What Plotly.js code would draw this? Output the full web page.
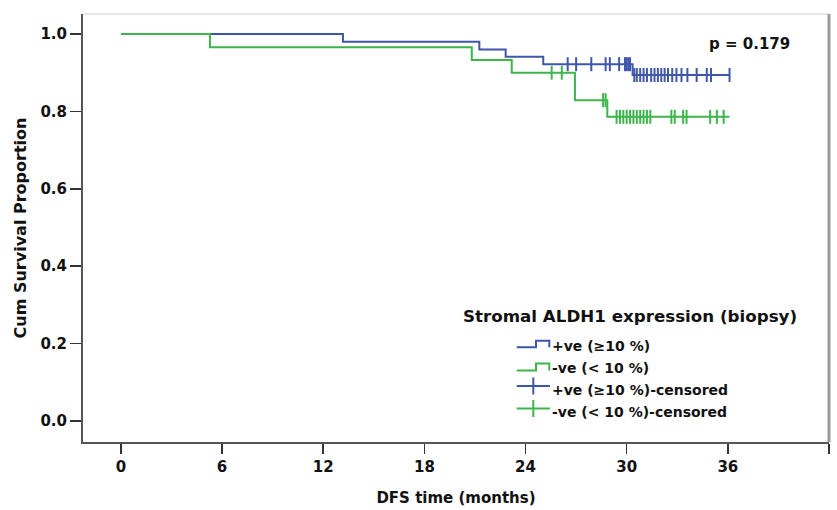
<!DOCTYPE html>
<html>
<head>
<meta charset="utf-8">
<script src="https://cdn.plot.ly/plotly-3.0.1.min.js"></script>
<style>html,body{margin:0;padding:0;background:#fff;}#chart{width:837px;height:510px;}</style>
</head>
<body>
<div id="chart"></div>
<script>
// ---- data ----
const xTicks = [0, 6, 12, 18, 24, 30, 36, 42];
const yTicks = [0.0, 0.2, 0.4, 0.6, 0.8, 1.0];

const posTime = [0, 13.17, 21.26, 22.82, 25.05, 30.35, 36.1];
const posSurv = [1.0, 0.980, 0.960, 0.941, 0.922, 0.894, 0.894];
const negTime = [0, 5.28, 20.81, 23.18, 26.93, 28.85, 36.1];
const negSurv = [1.0, 0.966, 0.933, 0.900, 0.829, 0.786, 0.786];

const posCensor = [26.5, 27.0, 27.9, 28.75, 29.0, 29.55, 29.9, 30.0, 30.1, 30.2,
  30.45, 30.6, 30.8, 31.0, 31.2, 31.45, 31.65, 31.85, 32.05, 32.25, 32.45, 32.7,
  32.95, 33.25, 33.6, 34.15, 34.75, 35.0, 36.1];
const negCensor = [25.55, 26.15, 28.6, 28.75, 29.4, 29.6, 29.8, 30.0, 30.2, 30.4,
  30.6, 30.8, 31.0, 31.2, 31.4, 32.65, 32.85, 33.35, 33.55, 34.95, 35.35, 35.75];

const seriesNames = ['+ve (\u226510 %)', '-ve (< 10 %)', '+ve (\u226510 %)-censored', '-ve (< 10 %)-censored'];
const legendTitle = 'Stromal ALDH1 expression (biopsy)';
const pText = 'p = 0.179';

// ---- styling ----
const BLUE = '#3F57AB';
const GREEN = '#3CB64A';
const FONT = 'DejaVu Sans, Liberation Sans, Arial, sans-serif';

function survAt(times, surv, t) {
  let v = surv[0];
  for (let i = 0; i < times.length; i++) { if (times[i] <= t) v = surv[i]; }
  return v;
}

const traces = [
  {x: posTime, y: posSurv, mode: 'lines', line: {shape: 'hv', color: BLUE, width: 2}, name: seriesNames[0], showlegend: false, hoverinfo: 'skip'},
  {x: posCensor, y: posCensor.map(t => survAt(posTime, posSurv, t)), mode: 'markers', name: seriesNames[2], showlegend: false,
   marker: {symbol: 'line-ns', size: 10, line: {color: BLUE, width: 2}}},
  {x: negTime, y: negSurv, mode: 'lines', line: {shape: 'hv', color: GREEN, width: 2}, name: seriesNames[1], showlegend: false, hoverinfo: 'skip'},
  {x: negCensor, y: negCensor.map(t => survAt(negTime, negSurv, t)), mode: 'markers', name: seriesNames[3], showlegend: false,
   marker: {symbol: 'line-ns', size: 10, line: {color: GREEN, width: 2}}}
];

// plot area in px, for placing the hand-drawn legend
const L = 83, R = 829, T = 14, B = 442;
const px = x => (x - L) / (R - L);
const py = y => (B - y) / (B - T);

const shapes = [
  {type: 'line', xref: 'paper', yref: 'paper', x0: 0, x1: 1, y0: 1, y1: 1, line: {color: '#cfcfcf', width: 1}},
  {type: 'line', xref: 'paper', yref: 'paper', x0: 1, x1: 1, y0: 0, y1: 1, line: {color: '#9a9a9a', width: 3}}
];
function stepIcon(yLow, yHigh, color) {
  shapes.push({type: 'path', xref: 'paper', yref: 'paper',
    path: `M ${px(516.7)} ${py(yLow)} L ${px(536)} ${py(yLow)} L ${px(536)} ${py(yHigh)} L ${px(549.3)} ${py(yHigh)} L ${px(549.3)} ${py(yLow)}`,
    line: {color: color, width: 2}});
}
function crossIcon(yc, color) {
  shapes.push({type: 'line', xref: 'paper', yref: 'paper', x0: px(516.7), x1: px(550), y0: py(yc), y1: py(yc), line: {color: color, width: 2}});
  shapes.push({type: 'line', xref: 'paper', yref: 'paper', x0: px(533.3), x1: px(533.3), y0: py(yc - 8.5), y1: py(yc + 8.5), line: {color: color, width: 2}});
}
stepIcon(347.3, 340.7, BLUE);
stepIcon(370.5, 363.5, GREEN);
crossIcon(386, BLUE);
crossIcon(408.5, GREEN);

const rowsY = [345.5, 367.8, 389.5, 411.8];
const annotations = [
  {xref: 'paper', yref: 'paper', x: px(707), y: py(44), xanchor: 'left', yanchor: 'middle', text: pText, showarrow: false,
   font: {family: FONT, size: 15, color: '#111', weight: 'bold'}},
  {xref: 'paper', yref: 'paper', x: px(461), y: py(315.5), xanchor: 'left', yanchor: 'middle', text: legendTitle, showarrow: false,
   font: {family: FONT, size: 16.7, color: '#111', weight: 'bold'}}
];
seriesNames.forEach((n, i) => annotations.push({xref: 'paper', yref: 'paper', x: px(550), y: py(rowsY[i]), xanchor: 'left', yanchor: 'middle',
  text: n, showarrow: false, font: {family: FONT, size: 14, color: '#111', weight: 'bold'}}));

const tickFont = {family: FONT, size: 15, color: '#111', weight: 'bold'};
const layout = {
  width: 837, height: 510,
  margin: {l: L, r: 837 - R, t: T, b: 510 - B, pad: 0},
  paper_bgcolor: '#fff', plot_bgcolor: '#fff',
  showlegend: false,
  xaxis: {range: [-2.25, 42], tickvals: xTicks, ticktext: xTicks.map(String), ticks: 'outside', ticklen: 10, tickwidth: 1.5, tickcolor: '#333',
    showline: true, linecolor: '#555', linewidth: 2, showgrid: false, zeroline: false, tickfont: tickFont,
    title: {text: 'DFS time (months)', font: {family: FONT, size: 15, color: '#111', weight: 'bold'}, standoff: 17}},
  yaxis: {range: [-0.0543, 1.0517], tickvals: yTicks, tickformat: '.1f', ticks: 'outside', ticklen: 11, tickwidth: 1.5, tickcolor: '#333',
    showline: true, linecolor: '#555', linewidth: 2, showgrid: false, zeroline: false, tickfont: tickFont,
    title: {text: 'Cum Survival Proportion', font: {family: FONT, size: 16, color: '#111', weight: 'bold'}, standoff: 10}},
  shapes: shapes,
  annotations: annotations
};

Plotly.newPlot('chart', traces, layout, {staticPlot: true, displayModeBar: false});
</script>
</body>
</html>
